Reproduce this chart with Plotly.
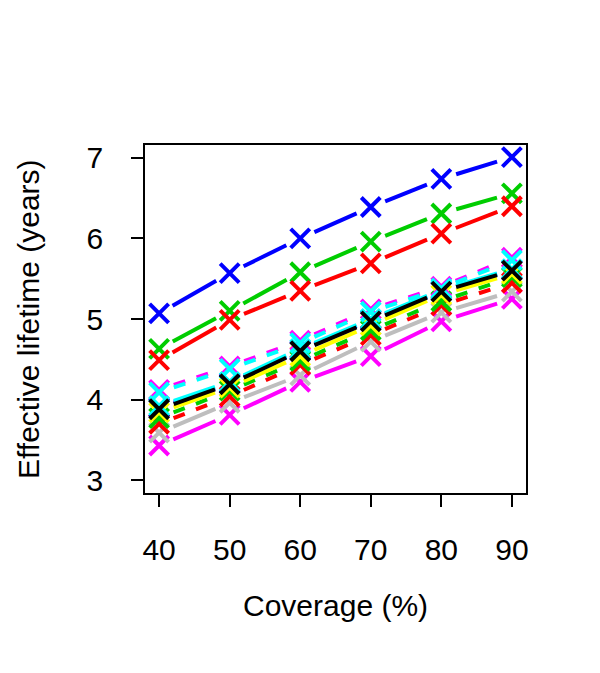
import plotly.graph_objects as go
import math

coverage = [40, 50, 60, 70, 80, 90]

blue_top = [5.07, 5.57, 6.00, 6.39, 6.74, 7.01]
green_top = [4.63, 5.10, 5.58, 5.96, 6.31, 6.56]
red_top = [4.49, 4.99, 5.35, 5.69, 6.06, 6.40]

magenta_solid = [3.43, 3.81, 4.22, 4.54, 4.97, 5.25]
gray_solid = [3.59, 3.96, 4.30, 4.72, 5.08, 5.34]
red_dash = [3.70, 4.04, 4.43, 4.80, 5.17, 5.45]
green_dash = [3.77, 4.11, 4.48, 4.86, 5.22, 5.52]
yellow_solid = [3.84, 4.15, 4.54, 4.92, 5.30, 5.56]
magenta_dash = [4.12, 4.41, 4.73, 5.12, 5.40, 5.76]
cyan_dash = [4.09, 4.38, 4.70, 5.09, 5.38, 5.73]
blue_solid = [3.90, 4.20, 4.61, 4.99, 5.35, 5.61]
cyan_solid = [3.92, 4.22, 4.63, 5.00, 5.36, 5.62]
black_solid = [3.88, 4.19, 4.60, 4.97, 5.34, 5.60]

x_ticks = [40, 50, 60, 70, 80, 90]
y_ticks = [3, 4, 5, 6, 7]

series = [
    ("blue", "#0000FF", "solid", blue_top),
    ("green", "#00CD00", "solid", green_top),
    ("red", "#FF0000", "solid", red_top),
    ("magenta", "#FF00FF", "solid", magenta_solid),
    ("gray", "#BEBEBE", "solid", gray_solid),
    ("red2", "#FF0000", "dash", red_dash),
    ("green2", "#00CD00", "dash", green_dash),
    ("yellow", "#FFFF00", "solid", yellow_solid),
    ("magenta2", "#FF00FF", "dash", magenta_dash),
    ("cyan2", "#00FFFF", "dash", cyan_dash),
    ("blue2", "#0000FF", "solid", blue_solid),
    ("cyan", "#00FFFF", "solid", cyan_solid),
    ("black", "#000000", "solid", black_solid),
]

# page body has an 8px margin, so the figure is 8px smaller than the window
W, H = 592, 665
ml, mr, mt, mb = 137, 74, 137, 180
xr = [38, 92]
yr = [2.84, 7.16]
pxx = (W - ml - mr) / (xr[1] - xr[0])
pxy = (H - mt - mb) / (yr[1] - yr[0])
gap = 15.5  # pixel gap around points (R type="b")

fig = go.Figure()
for name, col, dash, vals in series:
    lx, ly = [], []
    for i in range(len(coverage) - 1):
        x0, x1 = coverage[i], coverage[i + 1]
        y0, y1 = vals[i], vals[i + 1]
        L = math.hypot((x1 - x0) * pxx, (y1 - y0) * pxy)
        f = gap / L
        lx += [x0 + f * (x1 - x0), x1 - f * (x1 - x0), None]
        ly += [y0 + f * (y1 - y0), y1 - f * (y1 - y0), None]
    fig.add_trace(go.Scatter(
        x=lx, y=ly, mode="lines",
        line=dict(color=col, width=4, dash="12px,12px" if dash == "dash" else "solid"),
        showlegend=False, hoverinfo="skip"))
    fig.add_trace(go.Scatter(
        x=coverage, y=vals, mode="markers",
        marker=dict(symbol="x-thin", size=19, line=dict(color=col, width=4)),
        showlegend=False))

font = dict(family="Liberation Sans, Arial, sans-serif", size=30, color="black")
fig.update_layout(
    width=W, height=H,
    margin=dict(l=ml, r=mr, t=mt, b=mb),
    paper_bgcolor="white", plot_bgcolor="white",
    font=font,
    xaxis=dict(range=xr, tickvals=x_ticks, ticktext=[str(v) for v in x_ticks],
               showgrid=False, zeroline=False, showline=True, mirror=True,
               linecolor="black", linewidth=1.5, ticks="outside", ticklen=12,
               tickwidth=1.5, tickcolor="black", tickfont=font, ticklabelstandoff=17),
    yaxis=dict(range=yr, tickvals=y_ticks, ticktext=[str(v) for v in y_ticks],
               showgrid=False, zeroline=False, showline=True, mirror=True,
               linecolor="black", linewidth=1.5, ticks="outside", ticklen=12,
               tickwidth=1.5, tickcolor="black", tickfont=font, ticklabelstandoff=22),
    annotations=[
        dict(text="Coverage (%)", xref="paper", yref="paper", x=0.5, y=0,
             yshift=-112, showarrow=False, font=font, xanchor="center", yanchor="middle"),
        dict(text="Effective lifetime (years)", xref="paper", yref="paper", x=0, y=0.5,
             xshift=-117, showarrow=False, font=font, textangle=-90,
             xanchor="center", yanchor="middle"),
    ],
)
fig.write_html("out.html")
